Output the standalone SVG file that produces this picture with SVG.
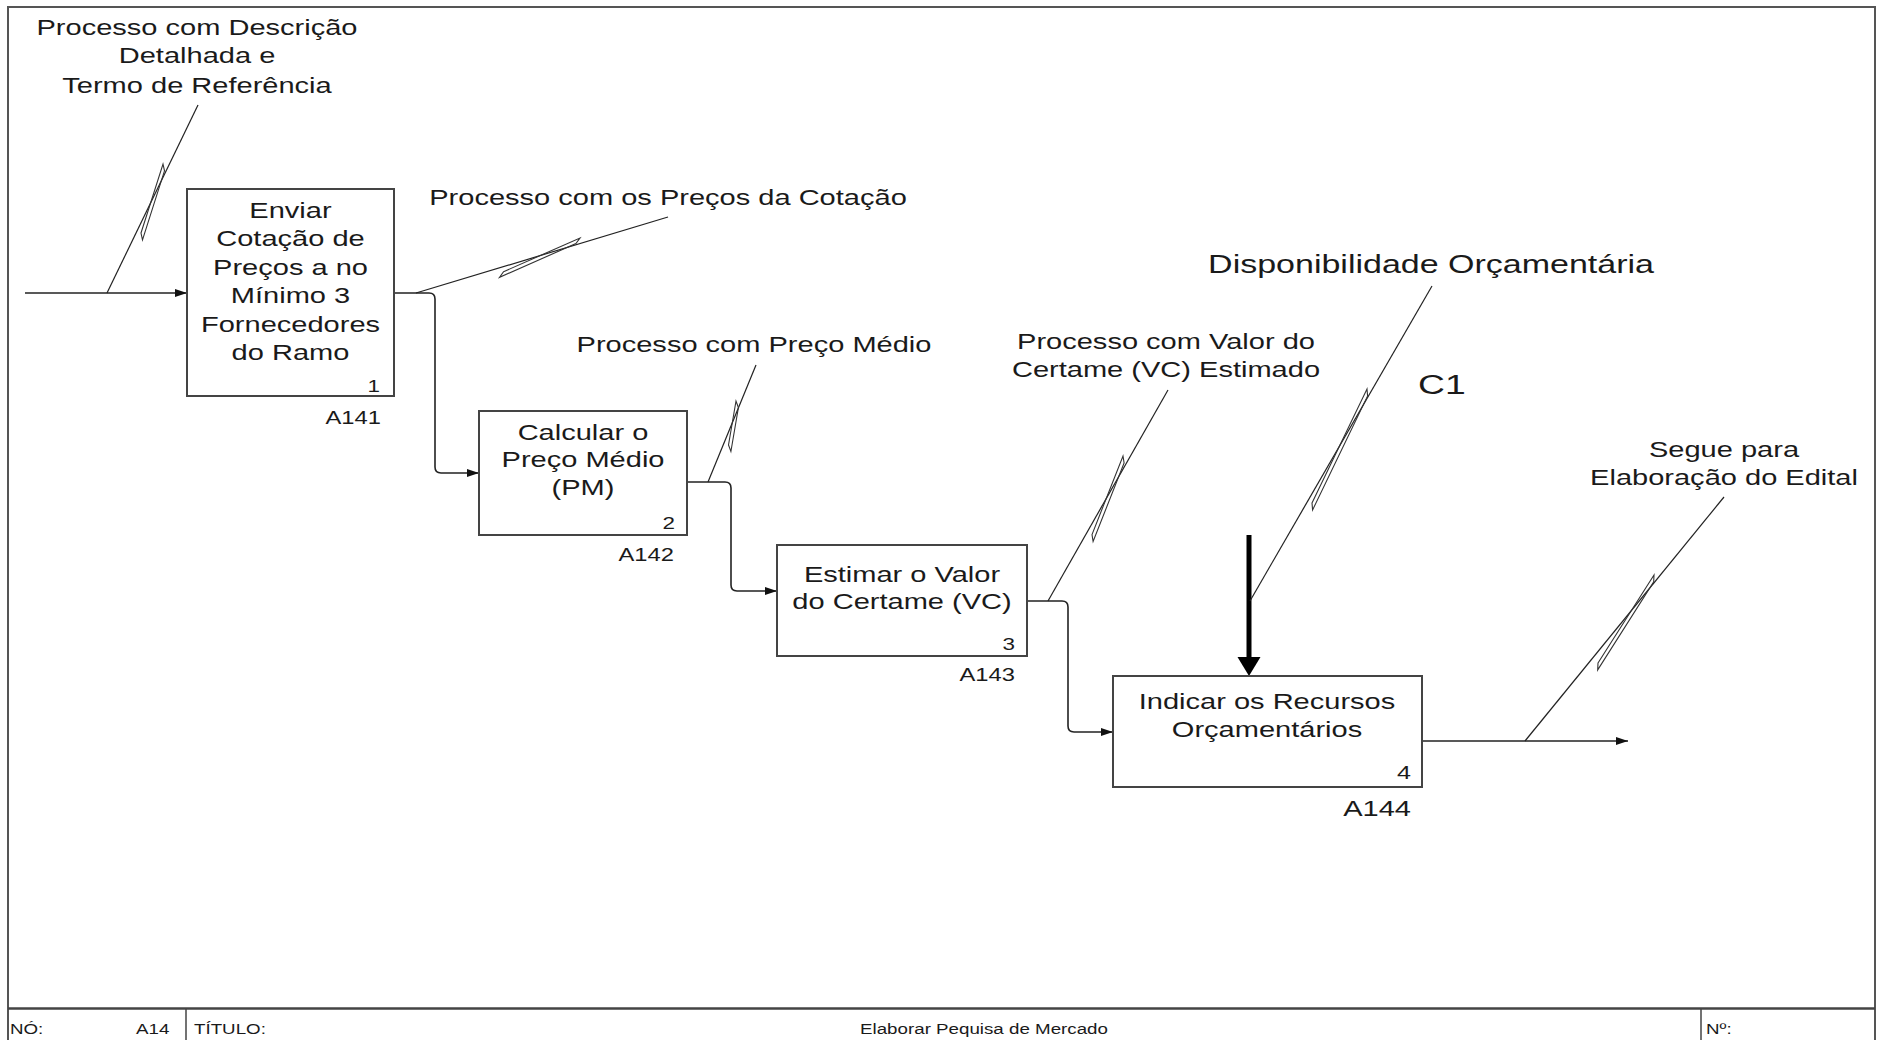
<svg xmlns="http://www.w3.org/2000/svg" width="1878" height="1040" viewBox="0 0 1878 1040">
  <style>
    text { font-family: "Liberation Sans", Arial, sans-serif; fill: #1a1a1a; }
    .f22 { font-size: 22px; }
    .f18 { font-size: 18px; }
    .f17 { font-size: 17px; }
    .f15 { font-size: 15px; }
    .mid { text-anchor: middle; }
    .end { text-anchor: end; }
    .box { fill: #ffffff; stroke: #444444; stroke-width: 2; }
    .conn { fill: none; stroke: #222222; stroke-width: 1.6; }
    .lead { fill: none; stroke: #222222; stroke-width: 1.2; }
    .squig { fill: none; stroke: #333333; stroke-width: 1.1; stroke-linejoin: miter; }
    .frame { fill: none; stroke: #555555; stroke-width: 2; }
  </style>
  <defs>
    <marker id="arr" markerUnits="userSpaceOnUse" markerWidth="12" markerHeight="8" refX="12" refY="4" orient="auto">
      <path d="M0,0 L12,4 L0,8 Z" fill="#111111"/>
    </marker>
  </defs>

  <rect x="0" y="0" width="1878" height="1040" fill="#ffffff"/>

  <!-- sheet frame and title strip -->
  <g id="frame">
    <path class="frame" d="M8,1040 V7 H1875 V1040"/>
    <line x1="8" y1="1008.5" x2="1875" y2="1008.5" stroke="#444444" stroke-width="2.6"/>
    <line x1="186" y1="1008" x2="186" y2="1040" stroke="#444444" stroke-width="1.5"/>
    <line x1="1701" y1="1008" x2="1701" y2="1040" stroke="#444444" stroke-width="1.5"/>
    <text class="f15" transform="matrix(1.25 0 0 1 10 1034)">NÓ:</text>
    <text class="f15" transform="matrix(1.25 0 0 1 136 1034)">A14</text>
    <text class="f15" transform="matrix(1.25 0 0 1 194 1034)">TÍTULO:</text>
    <text class="f15 mid" transform="matrix(1.25 0 0 1 984 1034)">Elaborar Pequisa de Mercado</text>
    <text class="f15" transform="matrix(1.25 0 0 1 1706 1034)">Nº:</text>
  </g>

  <!-- arrows, leader lines and squiggles -->
  <g id="connectors">
    <!-- input into A141 -->
    <path class="conn" d="M25,293 H187" marker-end="url(#arr)"/>
    <!-- A141 -> A142 -->
    <path class="conn" d="M394,293 H429 Q435,293 435,299 V467 Q435,473 441,473 H479" marker-end="url(#arr)"/>
    <!-- A142 -> A143 -->
    <path class="conn" d="M687,482 H725 Q731,482 731,488 V585 Q731,591 737,591 H777" marker-end="url(#arr)"/>
    <!-- A143 -> A144 -->
    <path class="conn" d="M1027,601 H1062 Q1068,601 1068,607 V726 Q1068,732 1074,732 H1113" marker-end="url(#arr)"/>
    <!-- output of A144 -->
    <path class="conn" d="M1422,741 H1628" marker-end="url(#arr)"/>
    <!-- control C1 (heavy) -->
    <line x1="1249" y1="535" x2="1249" y2="659" stroke="#000000" stroke-width="5"/>
    <polygon points="1237.5,657 1260.5,657 1249,676" fill="#000000"/>

    <!-- label leaders -->
    <line class="lead" x1="107" y1="293" x2="198" y2="105"/>
    <line class="lead" x1="416" y1="293" x2="668" y2="217"/>
    <line class="lead" x1="708" y1="482" x2="756" y2="365"/>
    <line class="lead" x1="1048" y1="601" x2="1168" y2="390"/>
    <line class="lead" x1="1250" y1="601" x2="1432" y2="286"/>
    <line class="lead" x1="1525" y1="741" x2="1724" y2="497"/>

    <!-- squiggles on the leaders -->
    <polygon class="squig" points="141,233 163,164 164.5,170.8 142.5,239.8"/>
    <polygon class="squig" points="503.6,271.7 580,238 575.9,243.6 499.5,277.3"/>
    <polygon class="squig" points="728.5,445 736,401 738.4,407.5 730.9,451.5"/>
    <polygon class="squig" points="1092,534.6 1123,456 1124.1,462.9 1093.1,541.5"/>
    <polygon class="squig" points="1312,503 1367,389 1367.6,395.9 1312.6,509.9"/>
    <polygon class="squig" points="1598,663 1654,575 1653.7,581.9 1597.7,669.9"/>
  </g>

  <!-- free labels -->
  <g id="labels">
    <text class="f22 mid" transform="matrix(1.32 0 0 1 197 35)">Processo com Descrição</text>
    <text class="f22 mid" transform="matrix(1.32 0 0 1 197 63)">Detalhada e</text>
    <text class="f22 mid" transform="matrix(1.32 0 0 1 197 93)">Termo de Referência</text>
    <text class="f22 mid" transform="matrix(1.32 0 0 1 668 205)">Processo com os Preços da Cotação</text>
    <text class="f22 mid" transform="matrix(1.32 0 0 1 754 352)">Processo com Preço Médio</text>
    <text class="f22 mid" transform="matrix(1.32 0 0 1 1166 349)">Processo com Valor do</text>
    <text class="f22 mid" transform="matrix(1.32 0 0 1 1166 377)">Certame (VC) Estimado</text>
    <text class="mid" font-size="25" transform="matrix(1.36 0 0 1 1431 273)">Disponibilidade Orçamentária</text>
    <text font-size="27" transform="matrix(1.38 0 0 1 1418 394)">C1</text>
    <text class="f22 mid" transform="matrix(1.32 0 0 1 1724 457)">Segue para</text>
    <text class="f22 mid" transform="matrix(1.32 0 0 1 1724 485)">Elaboração do Edital</text>
  </g>

  <!-- activity A141 -->
  <g id="A141">
    <rect class="box" x="187" y="189" width="207" height="207"/>
    <text class="f22 mid" transform="matrix(1.32 0 0 1 290.5 217.5)">Enviar</text>
    <text class="f22 mid" transform="matrix(1.32 0 0 1 290.5 246)">Cotação de</text>
    <text class="f22 mid" transform="matrix(1.32 0 0 1 290.5 274.5)">Preços a no</text>
    <text class="f22 mid" transform="matrix(1.32 0 0 1 290.5 303)">Mínimo 3</text>
    <text class="f22 mid" transform="matrix(1.32 0 0 1 290.5 331.5)">Fornecedores</text>
    <text class="f22 mid" transform="matrix(1.32 0 0 1 290.5 360)">do Ramo</text>
    <text class="f17 end" transform="matrix(1.32 0 0 1 380 392)">1</text>
    <text class="f18 end" transform="matrix(1.32 0 0 1 381 424)">A141</text>
  </g>

  <!-- activity A142 -->
  <g id="A142">
    <rect class="box" x="479" y="411" width="208" height="124"/>
    <text class="f22 mid" transform="matrix(1.32 0 0 1 583 440)">Calcular o</text>
    <text class="f22 mid" transform="matrix(1.32 0 0 1 583 467)">Preço Médio</text>
    <text class="f22 mid" transform="matrix(1.32 0 0 1 583 495)">(PM)</text>
    <text class="f17 end" transform="matrix(1.32 0 0 1 675 529)">2</text>
    <text class="f18 end" transform="matrix(1.32 0 0 1 674 561)">A142</text>
  </g>

  <!-- activity A143 -->
  <g id="A143">
    <rect class="box" x="777" y="545" width="250" height="111"/>
    <text class="f22 mid" transform="matrix(1.32 0 0 1 902 582)">Estimar o Valor</text>
    <text class="f22 mid" transform="matrix(1.32 0 0 1 902 609)">do Certame (VC)</text>
    <text class="f17 end" transform="matrix(1.32 0 0 1 1015 650)">3</text>
    <text class="f18 end" transform="matrix(1.32 0 0 1 1015 681)">A143</text>
  </g>

  <!-- activity A144 -->
  <g id="A144">
    <rect class="box" x="1113" y="676" width="309" height="111"/>
    <text class="f22 mid" transform="matrix(1.32 0 0 1 1267 709)">Indicar os Recursos</text>
    <text class="f22 mid" transform="matrix(1.32 0 0 1 1267 737)">Orçamentários</text>
    <text class="end" font-size="19" transform="matrix(1.32 0 0 1 1411 779)">4</text>
    <text class="f22 end" transform="matrix(1.32 0 0 1 1411 816)">A144</text>
  </g>
</svg>
